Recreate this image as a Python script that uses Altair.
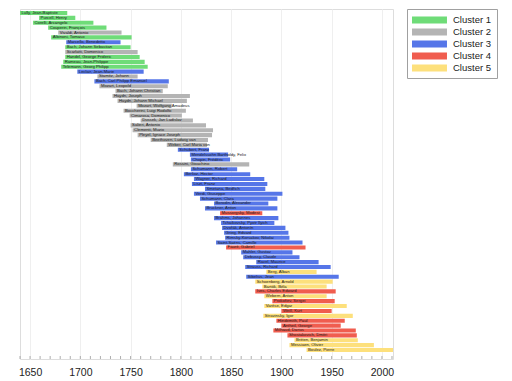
import altair as alt
import pandas as pd

names = [
    "Lully, Jean-Baptiste", "Purcell, Henry", "Corelli, Arcangelo", "Couperin, François",
    "Vivaldi, Antonio", "Albinoni, Tomaso", "Marcello, Benedetto", "Bach, Johann Sebastian",
    "Scarlatti, Domenico", "Handel, George Frideric", "Rameau, Jean-Philippe", "Telemann, Georg Philipp",
    "Leclair, Jean-Marie", "Stamitz, Johann", "Bach, Carl Philipp Emanuel", "Mozart, Leopold",
    "Bach, Johann Christian", "Haydn, Joseph", "Haydn, Johann Michael", "Mozart, Wolfgang Amadeus",
    "Boccherini, Luigi Rodolfo", "Cimarosa, Domenico", "Dussek, Jan Ladislav", "Salieri, Antonio",
    "Clementi, Muzio", "Pleyel, Ignace Joseph", "Beethoven, Ludwig van", "Weber, Carl Maria von",
    "Schubert, Franz", "Mendelssohn Bartholdy, Felix", "Chopin, Frédéric", "Rossini, Gioachino",
    "Schumann, Robert", "Berlioz, Hector", "Wagner, Richard", "Liszt, Franz",
    "Smetana, Bedřich", "Verdi, Giuseppe", "Schumann, Clara", "Borodin, Alexander",
    "Bruckner, Anton", "Mussorgsky, Modest", "Brahms, Johannes", "Tchaikovsky, Pyotr Ilyich",
    "Dvořák, Antonín", "Grieg, Edvard", "Rimsky-Korsakov, Nikolai", "Saint-Saëns, Camille",
    "Fauré, Gabriel", "Mahler, Gustav", "Debussy, Claude", "Ravel, Maurice",
    "Strauss, Richard", "Berg, Alban", "Sibelius, Jean", "Schoenberg, Arnold",
    "Bartók, Béla", "Ives, Charles Edward", "Webern, Anton", "Prokofiev, Sergei",
    "Varèse, Edgar", "Weill, Kurt", "Stravinsky, Igor", "Hindemith, Paul",
    "Antheil, George", "Milhaud, Darius", "Shostakovich, Dmitri", "Britten, Benjamin",
    "Messiaen, Olivier", "Boulez, Pierre",
]
born = [
    1632, 1659, 1653, 1668, 1678, 1671, 1686, 1685, 1685, 1685, 1683, 1681,
    1697, 1717, 1714, 1719, 1735, 1732, 1737, 1756, 1743, 1749, 1760, 1750,
    1752, 1757, 1770, 1786, 1797, 1809, 1810, 1792, 1810, 1803, 1813, 1811,
    1824, 1813, 1819, 1833, 1824, 1839, 1833, 1840, 1841, 1843, 1844, 1835,
    1845, 1860, 1862, 1875, 1864, 1885, 1865, 1874, 1881, 1874, 1883, 1891,
    1883, 1900, 1882, 1895, 1900, 1892, 1906, 1913, 1908, 1925,
]
died = [
    1687, 1695, 1713, 1726, 1741, 1751, 1740, 1750, 1757, 1759, 1764, 1767,
    1763, 1757, 1788, 1787, 1782, 1809, 1806, 1791, 1805, 1801, 1812, 1825,
    1832, 1831, 1827, 1826, 1828, 1847, 1849, 1868, 1856, 1869, 1883, 1886,
    1884, 1901, 1896, 1887, 1896, 1881, 1897, 1893, 1904, 1907, 1908, 1921,
    1924, 1911, 1918, 1937, 1949, 1935, 1957, 1951, 1945, 1954, 1945, 1953,
    1965, 1950, 1971, 1963, 1959, 1974, 1975, 1976, 1992, 2016,
]
cluster = [
    1, 1, 1, 1, 2, 1, 3, 1, 2, 1, 1, 1,
    3, 2, 3, 2, 2, 2, 2, 2, 2, 2, 2, 2,
    2, 2, 2, 2, 3, 3, 3, 2, 3, 3, 3, 3,
    3, 3, 3, 3, 3, 4, 3, 3, 3, 3, 3, 3,
    4, 3, 3, 3, 3, 5, 3, 5, 5, 4, 5, 4,
    5, 4, 5, 4, 4, 4, 4, 5, 5, 5,
]
cluster_names = ["Cluster 1", "Cluster 2", "Cluster 3", "Cluster 4", "Cluster 5"]
cluster_colors = ["#6fdc78", "#b4b4b4", "#5676e8", "#f05d4f", "#fde07c"]
label_years = [1650, 1700, 1750, 1800, 1850, 1900, 1950, 2000]
decade_years = list(range(1640, 2011, 10))

df = pd.DataFrame({
    "name": names,
    "start": born,
    "end": died,
    "cluster": [cluster_names[c - 1] for c in cluster],
    "row": list(range(1, len(names) + 1)),
})
ticks = pd.DataFrame({"year": decade_years})

W, H = 373, 350
xscale = alt.Scale(domain=[1640, 2011], clamp=True, nice=False, zero=False)
yscale = alt.Scale(domain=[0.18, 71.84], reverse=True, nice=False, zero=False)

base = alt.Chart(df).transform_calculate(
    y0="datum.row - 0.42", y1="datum.row + 0.42"
)

bars = base.mark_rect().encode(
    x=alt.X("start:Q", scale=xscale, title=None,
            axis=alt.Axis(values=label_years, format="d", grid=True, gridColor="#efefef",
                          ticks=False, domain=False, labelFontSize=10.5, labelPadding=8,
                          labelColor="#222", labelFont="Liberation Sans")),
    x2="end:Q",
    y=alt.Y("y0:Q", scale=yscale, axis=None),
    y2="y1:Q",
    color=alt.Color("cluster:N",
                    scale=alt.Scale(domain=cluster_names, range=cluster_colors),
                    legend=alt.Legend(title=None, orient="none", legendX=387, legendY=0,
                                      symbolType="M-1,-0.6H4.83V0.6H-1Z", symbolSize=144,
                                      symbolStrokeWidth=0, symbolOpacity=1,
                                      labelFontSize=9.5, labelFont="Liberation Sans",
                                      labelColor="#222", labelOffset=29,
                                      strokeColor="#a0a0a0", padding=5, rowPadding=1,
                                      fillColor="white")),
)

labels = base.mark_text(align="left", baseline="middle", dx=1.5, fontSize=4.2,
                        color="#1a1a1a", font="Liberation Sans").encode(
    x=alt.X("start:Q", scale=xscale),
    y=alt.Y("row:Q", scale=yscale),
    text="name:N",
)

minor = alt.Chart(ticks).mark_rule(color="#999", strokeWidth=0.8).encode(
    x=alt.X("year:Q", scale=xscale),
    y=alt.value(H - 3),
    y2=alt.value(H),
)

chart = alt.layer(bars, labels, minor).properties(
    width=W, height=H,
    padding={"left": 10, "top": 0, "right": 0, "bottom": 0},
).configure_view(stroke="#a8a8a8", strokeWidth=1).configure(font="Liberation Sans")

chart.save("out.html", embed_options={"renderer": "svg", "actions": False})
